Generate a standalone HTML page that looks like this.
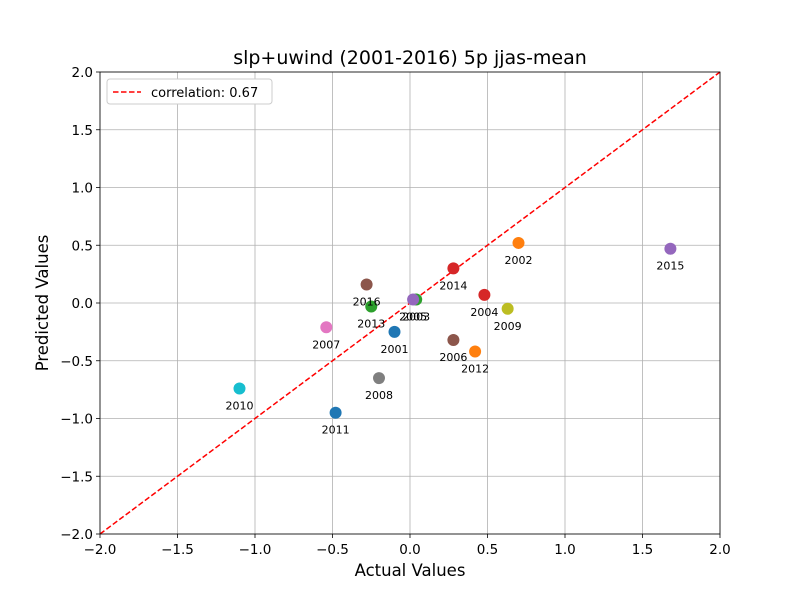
<!DOCTYPE html>
<html><head><meta charset="utf-8"><style>body{margin:0;background:#fff}svg{font-family:"DejaVu Sans","Liberation Sans",sans-serif}</style></head>
<body>
<svg id="c" width="800" height="600" viewBox="0 0 800 600"></svg>
<script>
const years=["2001","2002","2003","2004","2005","2006","2007","2008","2009","2010","2011","2012","2013","2014","2015","2016"];
const actual=[-0.10,0.70,0.04,0.48,0.02,0.28,-0.54,-0.20,0.63,-1.10,-0.48,0.42,-0.25,0.28,1.68,-0.28];
const predicted=[-0.25,0.52,0.03,0.07,0.03,-0.32,-0.21,-0.65,-0.05,-0.74,-0.95,-0.42,-0.03,0.30,0.47,0.16];
const ticks=[-2.0,-1.5,-1.0,-0.5,0.0,0.5,1.0,1.5,2.0];
const palette=["#1f77b4","#ff7f0e","#2ca02c","#d62728","#9467bd","#8c564b","#e377c2","#7f7f7f","#bcbd22","#17becf"];
const L=100,R=720,T=72,B=534;
const X=v=>L+(v+2)/4*(R-L), Y=v=>B-(v+2)/4*(B-T);
const svg=document.getElementById('c'),NS="http://www.w3.org/2000/svg";
function mk(t,a,p){const e=document.createElementNS(NS,t);for(const k in a)e.setAttribute(k,a[k]);(p||svg).appendChild(e);return e;}
const bg=mk('rect',{x:L,y:T,width:R-L,height:B-T,fill:'#fff'});


ticks.forEach(t=>{
 const gx=mk('line',{x1:X(t),x2:X(t),y1:T,y2:B,stroke:'#b0b0b0','stroke-width':0.8});
 
 
 const gy=mk('line',{x1:L,x2:R,y1:Y(t),y2:Y(t),stroke:'#b0b0b0','stroke-width':0.8});
 
 
 mk('line',{x1:X(t),x2:X(t),y1:B,y2:B+4,stroke:'#000','stroke-width':0.8});
 mk('line',{x1:L-4,x2:L,y1:Y(t),y2:Y(t),stroke:'#000','stroke-width':0.8});
 const xl=mk('text',{x:X(t),y:B+20,'font-size':13.5,'text-anchor':'middle'});xl.textContent=t.toFixed(1).replace('-','−');
 
 
 const yl=mk('text',{x:L-7,y:Y(t)+5,'font-size':13.5,'text-anchor':'end'});yl.textContent=t.toFixed(1).replace('-','−');
 
 
});
const diag=mk('line',{x1:X(-2),y1:Y(-2),x2:X(2),y2:Y(2),stroke:'#f00','stroke-width':1.5,'stroke-dasharray':'5.5,2.5'});


years.forEach((yr,i)=>{
 const c=mk('circle',{cx:X(actual[i]),cy:Y(predicted[i]),r:6,fill:palette[i%10]});
 
 
 const t=mk('text',{x:X(actual[i]),y:Y(predicted[i])+21,'font-size':11,'text-anchor':'middle'});t.textContent=yr;
 
 
});
const fr=mk('rect',{x:L,y:T,width:R-L,height:B-T,fill:'none',stroke:'#000','stroke-width':0.8});


const title=mk('text',{x:410,y:64,'font-size':19,'text-anchor':'middle'});title.textContent='slp+uwind (2001-2016) 5p jjas-mean';


const xt=mk('text',{x:410,y:576,'font-size':16.5,'text-anchor':'middle'});xt.textContent='Actual Values';


const yt=mk('text',{x:48,y:303,'font-size':16.5,'text-anchor':'middle',transform:'rotate(-90 48 303)'});yt.textContent='Predicted Values';


const lg=mk('rect',{x:107,y:79,width:165,height:25,rx:3,fill:'#fff',stroke:'#ccc','stroke-width':1});


mk('line',{x1:113,x2:141,y1:92,y2:92,stroke:'#f00','stroke-width':1.5,'stroke-dasharray':'5.5,2.5'});
const lt=mk('text',{x:151,y:97,'font-size':13});lt.textContent='correlation: 0.67';


</script>
</body></html>
